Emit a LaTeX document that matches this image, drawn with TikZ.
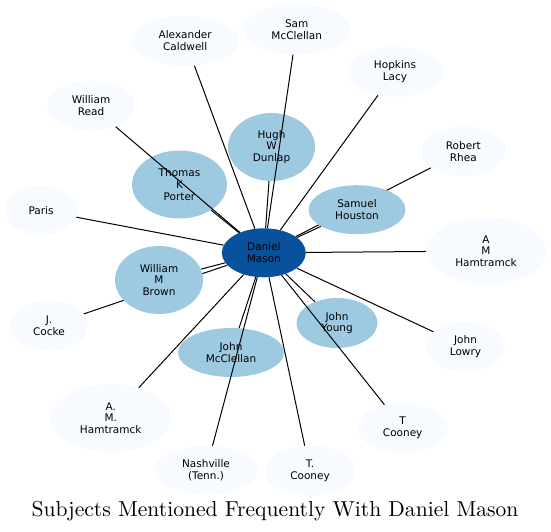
\documentclass[tikz,border=0pt]{standalone}
\usepackage{fontspec}
\newfontfamily\nodefont{DejaVu Sans}
\newfontfamily\titlefont{lmroman10-regular.otf}
\usetikzlibrary{shapes.geometric}
\definecolor{centerc}{HTML}{08519C}
\definecolor{innerc}{HTML}{9ECAE1}
\definecolor{outerc}{HTML}{F7FBFF}
\pgfdeclarelayer{bg}
\pgfsetlayers{bg,main}
\tikzset{
  bub/.style={ellipse, inner sep=0pt, align=center, text=black,
    font=\nodefont\fontsize{10.5}{11.7}\selectfont},
  hub/.style={bub, fill=centerc},
  inner/.style={bub, fill=innerc},
  outer/.style={bub, fill=outerc},
  link/.style={draw=black, line width=1pt},
}
\begin{document}
\begin{tikzpicture}[x=1pt,y=-1pt]
\useasboundingbox (0,0) rectangle (551,532);
% center
\node[hub, minimum width=84pt, minimum height=49pt] (dm) at (263.8,252.8) {Daniel\\Mason};
% inner nodes
\node[inner, minimum width=87pt, minimum height=68pt] (hugh) at (271.5,147) {Hugh\\W\\Dunlap};
\node[inner, minimum width=95pt, minimum height=68pt] (tkp) at (179.5,184.5) {Thomas\\K\\Porter};
\node[inner, minimum width=97pt, minimum height=49pt] (sh) at (357,209.7) {Samuel\\Houston};
\node[inner, minimum width=88pt, minimum height=68pt] (wmb) at (159,280) {William\\M\\Brown};
\node[inner, minimum width=106pt, minimum height=49pt] (jmc) at (231,352.5) {John\\McClellan};
\node[inner, minimum width=81pt, minimum height=50pt] (jy) at (337,323) {John\\Young};
% outer nodes
\node[outer, minimum width=108pt, minimum height=50pt] (ac) at (185.2,40.8) {Alexander\\Caldwell};
\node[outer, minimum width=107pt, minimum height=50pt] (smc) at (296.7,29.5) {Sam\\McClellan};
\node[outer, minimum width=95pt, minimum height=50pt] (hl) at (395,71.8) {Hopkins\\Lacy};
\node[outer, minimum width=88pt, minimum height=50pt] (wr) at (91,105.7) {William\\Read};
\node[outer, minimum width=85pt, minimum height=50pt] (rr) at (463.3,151.3) {Robert\\Rhea};
\node[outer, minimum width=73pt, minimum height=49pt] (paris) at (41,210.5) {Paris};
\node[outer, minimum width=120pt, minimum height=68pt] (amh) at (486,251) {A\\M\\Hamtramck};
\node[outer, minimum width=78pt, minimum height=50pt] (jc) at (49,325.7) {J.\\Cocke};
\node[outer, minimum width=79pt, minimum height=50pt] (jl) at (465.5,346.7) {John\\Lowry};
\node[outer, minimum width=120pt, minimum height=68pt] (amh2) at (110.7,418) {A.\\M.\\Hamtramck};
\node[outer, minimum width=90pt, minimum height=50pt] (tc) at (402.7,427.7) {T\\Cooney};
\node[outer, minimum width=103pt, minimum height=49pt] (nash) at (206,470.3) {Nashville\\(Tenn.)};
\node[outer, minimum width=91pt, minimum height=50pt] (tc2) at (310,470.7) {T.\\Cooney};
% title
\node[font=\titlefont\fontsize{21.6}{25}\selectfont, anchor=base, inner sep=0pt] (title) at (275,516) {Subjects Mentioned Frequently With Daniel Mason};
% edges hidden beneath nodes
\begin{pgfonlayer}{bg}
\draw[link] (dm) -- (rr);
\draw[link] (dm) -- (jc);
\end{pgfonlayer}
% edges over nodes
\draw[link] (dm) -- (hugh);
\draw[link] (dm) -- (tkp);
\draw[link] (dm) -- (sh);
\draw[link] (dm) -- (wmb);
\draw[link] (dm) -- (jmc);
\draw[link] (dm) -- (jy);
\draw[link] (dm) -- (ac);
\draw[link] (dm) -- (smc);
\draw[link] (dm) -- (hl);
\draw[link] (dm) -- (wr);
\draw[link] (dm) -- (paris);
\draw[link] (dm) -- (amh);
\draw[link] (dm) -- (jl);
\draw[link] (dm) -- (amh2);
\draw[link] (dm) -- (tc);
\draw[link] (dm) -- (nash);
\draw[link] (dm) -- (tc2);
\end{tikzpicture}
\end{document}
